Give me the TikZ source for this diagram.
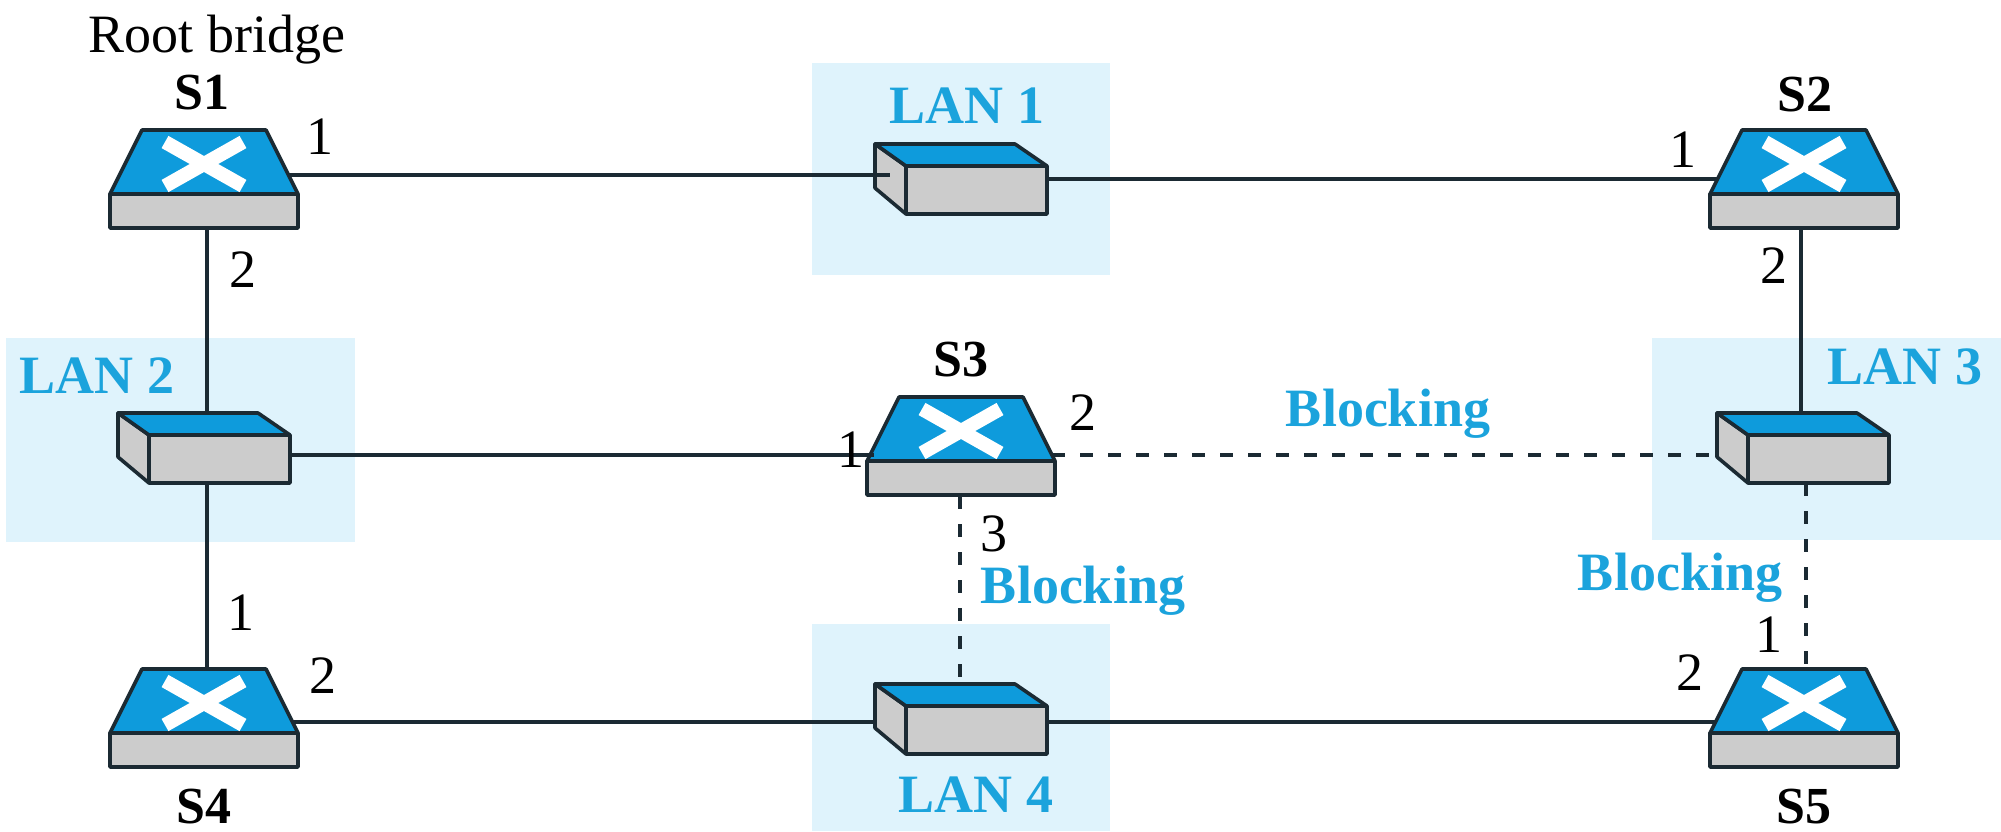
\documentclass[tikz,border=0pt]{standalone}
\usepackage{fontspec}
\setmainfont{Liberation Serif}
\definecolor{lanbg}{HTML}{DFF3FC}
\definecolor{topblue}{HTML}{0E9BDC}
\definecolor{txtblue}{HTML}{1BA3DC}
\definecolor{boxgray}{HTML}{CCCCCC}
\definecolor{edgedark}{HTML}{1B2A33}
\tikzset{
  devline/.style={draw=edgedark,line width=1.8pt,line join=round},
  link/.style={edgedark,line width=2pt},
  blocked/.style={edgedark,line width=2pt,dash pattern={on 6.5pt off 7.5pt}},
  lanarea/.style={fill=lanbg},
  txt/.style={anchor=base,inner sep=0pt,font=\fontsize{27}{30}\selectfont},
  namelbl/.style={txt,font=\fontsize{26}{30}\selectfont\bfseries},
  bluelbl/.style={txt,text=txtblue,font=\fontsize{27}{30}\selectfont\bfseries},
  switchdev/.pic={
    \draw[devline,fill=boxgray] (-94,30) -- (94,30) -- (94,64) -- (-94,64) -- cycle;
    \draw[devline,fill=topblue] (-62,-34) -- (62,-34) -- (94,30) -- (-94,30) -- cycle;
    \draw[white,line width=7pt] (-39,-22) -- (39,22) (-39,22) -- (39,-22);
  },
  landev/.pic={
    \draw[devline,fill=boxgray] (0,0) -- (31,22) -- (31,70) -- (0,44) -- cycle;
    \draw[devline,fill=boxgray] (31,22) -- (172,22) -- (172,70) -- (31,70) -- cycle;
    \draw[devline,fill=topblue] (0,0) -- (140,0) -- (172,22) -- (31,22) -- cycle;
  }
}
\begin{document}
\begin{tikzpicture}[x=0.5pt,y=-0.5pt]
\useasboundingbox (0,0) rectangle (2001,831);

%Shape: LAN areas
\fill[lanarea] (812,63) rectangle (1110,275);
\fill[lanarea] (6,338) rectangle (355,542);
\fill[lanarea] (1652,338) rectangle (2001,540);
\fill[lanarea] (812,624) rectangle (1110,831);

%Shape: Switches
\pic at (204,164) {switchdev};
\pic at (1804,164) {switchdev};
\pic at (961,431) {switchdev};
\pic at (204,703) {switchdev};
\pic at (1804,703) {switchdev};

%Shape: LAN boxes
\pic at (875,144) {landev};
\pic at (118,413) {landev};
\pic at (1717,413) {landev};
\pic at (875,684) {landev};

%Ports
\coordinate (s1e) at (289,175);
\coordinate (s1s) at (207,229);
\coordinate (s2w) at (1717,179);
\coordinate (s2s) at (1801,229);
\coordinate (s3w) at (874,455);
\coordinate (s3e) at (1052,455);
\coordinate (s3s) at (960,496);
\coordinate (s4e) at (293,722);
\coordinate (s4n) at (207,669);
\coordinate (s5w) at (1715,722);
\coordinate (s5n) at (1806,669);
\coordinate (lan1w) at (890,175);
\coordinate (lan1e) at (1047,179);
\coordinate (lan2n) at (207,413);
\coordinate (lan2s) at (207,483);
\coordinate (lan2e) at (291,455);
\coordinate (lan3n) at (1801,413);
\coordinate (lan3w) at (1717,455);
\coordinate (lan3s) at (1806,483);
\coordinate (lan4n) at (960,690);
\coordinate (lan4w) at (875,722);
\coordinate (lan4e) at (1047,722);

%Straight Lines
\draw[link] (s1e) -- (lan1w);
\draw[link] (lan1e) -- (s2w);
\draw[link] (s1s) -- (lan2n);
\draw[link] (lan2s) -- (s4n);
\draw[link] (lan2e) -- (s3w);
\draw[link] (s2s) -- (lan3n);
\draw[link] (s4e) -- (lan4w);
\draw[link] (lan4e) -- (s5w);
\draw[blocked] (s3e) -- (lan3w);
\draw[blocked] (s3s) -- (lan4n);
\draw[blocked] (lan3s) -- (s5n);

% Text Node
\node (rootlbl) [txt] at (217,52) {Root bridge};
\node (s1lbl) [namelbl] at (202,109) {S1};
\node (s2lbl) [namelbl] at (1805,111) {S2};
\node (s3lbl) [namelbl] at (961,376) {S3};
\node (s4lbl) [namelbl] at (204,823) {S4};
\node (s5lbl) [namelbl] at (1804,823) {S5};
% Text Node
\node (lan1lbl) [bluelbl] at (967,123) {LAN 1};
\node (lan2lbl) [bluelbl] at (97,393) {LAN 2};
\node (lan3lbl) [bluelbl] at (1905,384) {LAN 3};
\node (lan4lbl) [bluelbl] at (976,812) {LAN 4};
% Text Node
\node (block1) [bluelbl] at (1388,426) {Blocking};
\node (block2) [bluelbl] at (1083,603) {Blocking};
\node (block3) [bluelbl] at (1680,590) {Blocking};
% Text Node
\node (s1p1) [txt] at (320,154) {1};
\node (s1p2) [txt] at (243,287) {2};
\node (s2p1) [txt] at (1683,167) {1};
\node (s2p2) [txt] at (1774,283) {2};
\node (s3p1) [txt] at (851,467) {1};
\node (s3p2) [txt] at (1083,430) {2};
\node (s3p3) [txt] at (994,551) {3};
\node (s4p1) [txt] at (241,630) {1};
\node (s4p2) [txt] at (323,693) {2};
\node (s5p1) [txt] at (1769,652) {1};
\node (s5p2) [txt] at (1690,690) {2};

\end{tikzpicture}
\end{document}
